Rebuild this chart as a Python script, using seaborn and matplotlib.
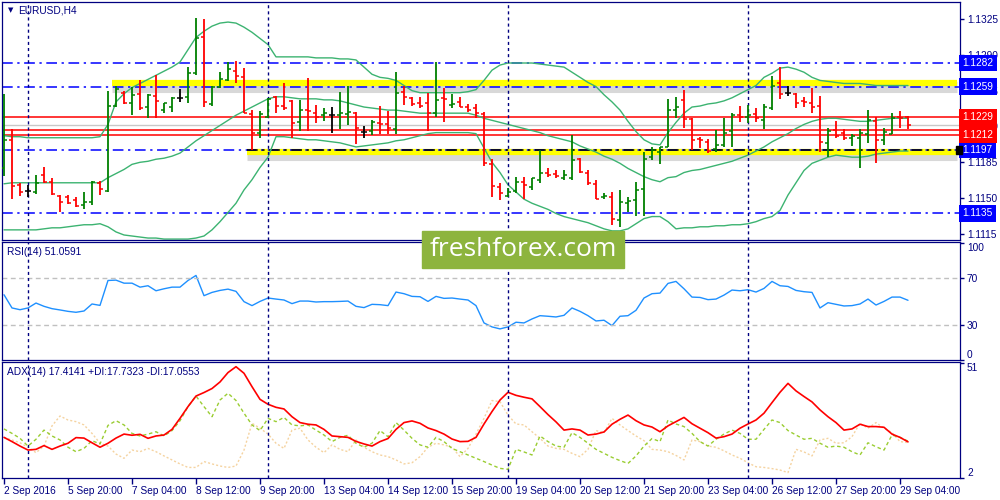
import numpy as np
import pandas as pd
import matplotlib
matplotlib.use("Agg")
import matplotlib.pyplot as plt
import seaborn as sns
from matplotlib.patches import Rectangle

# EURUSD H4, bars from 2 Sep 2016 12:00 to 29 Sep 2016 08:00
opens = [1.1179, 1.1207, 1.1163, 1.1157, 1.1156, 1.1173, 1.1166, 1.1152, 1.1151, 1.1148,
         1.1143, 1.1146, 1.1165, 1.1157, 1.1240, 1.1253, 1.1243, 1.1252, 1.1239, 1.1250,
         1.1236, 1.1239, 1.1248, 1.1249, 1.1272, 1.1307, 1.1242, 1.1259, 1.1265, 1.1274,
         1.1268, 1.1232, 1.1214, 1.1229, 1.1249, 1.1240, 1.1245, 1.1224, 1.1236, 1.1233,
         1.1231, 1.1231, 1.1231, 1.1232, 1.1233, 1.1215, 1.1216, 1.1223, 1.1222, 1.1218,
         1.1254, 1.1248, 1.1243, 1.1243, 1.1233, 1.1248, 1.1241, 1.1244, 1.1239, 1.1238,
         1.1232, 1.1183, 1.1161, 1.1152, 1.1157, 1.1166, 1.1161, 1.1168, 1.1175, 1.1174,
         1.1170, 1.1170, 1.1188, 1.1175, 1.1164, 1.1151, 1.1151, 1.1129, 1.1145, 1.1148,
         1.1159, 1.1190, 1.1195, 1.1200, 1.1236, 1.1246, 1.1227, 1.1208, 1.1205, 1.1198,
         1.1202, 1.1216, 1.1231, 1.1229, 1.1232, 1.1226, 1.1238, 1.1262, 1.1253, 1.1252,
         1.1245, 1.1243, 1.1240, 1.1204, 1.1217, 1.1214, 1.1209, 1.1209, 1.1213, 1.1225,
         1.1207, 1.1213, 1.1229, 1.1229]
highs = [1.1252, 1.1218, 1.1165, 1.1163, 1.1173, 1.1180, 1.1170, 1.1153, 1.1153, 1.1151,
         1.1156, 1.1167, 1.1167, 1.1255, 1.1260, 1.1255, 1.1259, 1.1265, 1.1252, 1.1270,
         1.1243, 1.1249, 1.1257, 1.1278, 1.1326, 1.1325, 1.1260, 1.1273, 1.1283, 1.1284,
         1.1277, 1.1236, 1.1235, 1.1248, 1.1250, 1.1262, 1.1246, 1.1246, 1.1267, 1.1241,
         1.1238, 1.1239, 1.1254, 1.1260, 1.1234, 1.1220, 1.1226, 1.1240, 1.1235, 1.1273,
         1.1260, 1.1249, 1.1249, 1.1253, 1.1283, 1.1258, 1.1252, 1.1249, 1.1242, 1.1242,
         1.1234, 1.1188, 1.1165, 1.1160, 1.1171, 1.1171, 1.1170, 1.1197, 1.1179, 1.1177,
         1.1177, 1.1212, 1.1189, 1.1177, 1.1168, 1.1155, 1.1156, 1.1158, 1.1151, 1.1166,
         1.1195, 1.1200, 1.1200, 1.1247, 1.1249, 1.1256, 1.1228, 1.1210, 1.1208, 1.1217,
         1.1228, 1.1233, 1.1240, 1.1241, 1.1238, 1.1242, 1.1269, 1.1278, 1.1260, 1.1253,
         1.1249, 1.1258, 1.1250, 1.1219, 1.1225, 1.1218, 1.1213, 1.1218, 1.1236, 1.1229,
         1.1219, 1.1233, 1.1235, 1.1230]
lows = [1.1172, 1.1149, 1.1152, 1.1151, 1.1154, 1.1165, 1.1153, 1.1136, 1.1144, 1.1141,
        1.1139, 1.1143, 1.1153, 1.1156, 1.1239, 1.1242, 1.1231, 1.1236, 1.1228, 1.1228,
        1.1233, 1.1234, 1.1244, 1.1243, 1.1270, 1.1239, 1.1240, 1.1258, 1.1264, 1.1262,
        1.1233, 1.1197, 1.1209, 1.1228, 1.1233, 1.1236, 1.1209, 1.1216, 1.1216, 1.1223,
        1.1225, 1.1214, 1.1218, 1.1221, 1.1203, 1.1209, 1.1212, 1.1213, 1.1213, 1.1213,
        1.1241, 1.1240, 1.1238, 1.1216, 1.1229, 1.1224, 1.1238, 1.1239, 1.1234, 1.1228,
        1.1181, 1.1151, 1.1148, 1.1151, 1.1155, 1.1149, 1.1158, 1.1165, 1.1171, 1.1170,
        1.1168, 1.1168, 1.1175, 1.1163, 1.1149, 1.1149, 1.1124, 1.1122, 1.1136, 1.1133,
        1.1133, 1.1187, 1.1183, 1.1200, 1.1228, 1.1219, 1.1197, 1.1199, 1.1194, 1.1195,
        1.1200, 1.1200, 1.1224, 1.1223, 1.1224, 1.1218, 1.1236, 1.1247, 1.1250, 1.1238,
        1.1239, 1.1233, 1.1195, 1.1190, 1.1209, 1.1207, 1.1201, 1.1179, 1.1204, 1.1184,
        1.1202, 1.1213, 1.1219, 1.1218]
closes = [1.1207, 1.1162, 1.1156, 1.1157, 1.1165, 1.1166, 1.1154, 1.1146, 1.1145, 1.1142,
          1.1146, 1.1166, 1.1159, 1.1240, 1.1257, 1.1243, 1.1251, 1.1238, 1.1251, 1.1245,
          1.1243, 1.1248, 1.1248, 1.1272, 1.1306, 1.1244, 1.1259, 1.1266, 1.1276, 1.1269,
          1.1233, 1.1214, 1.1232, 1.1247, 1.1240, 1.1238, 1.1223, 1.1236, 1.1235, 1.1229,
          1.1233, 1.1231, 1.1233, 1.1234, 1.1219, 1.1215, 1.1224, 1.1222, 1.1219, 1.1253,
          1.1249, 1.1242, 1.1240, 1.1233, 1.1246, 1.1247, 1.1242, 1.1239, 1.1236, 1.1233,
          1.1184, 1.1162, 1.1155, 1.1156, 1.1166, 1.1163, 1.1170, 1.1175, 1.1173, 1.1172,
          1.1173, 1.1187, 1.1176, 1.1165, 1.1149, 1.1152, 1.1130, 1.1146, 1.1147, 1.1158,
          1.1188, 1.1197, 1.1200, 1.1236, 1.1239, 1.1227, 1.1207, 1.1207, 1.1196, 1.1202,
          1.1214, 1.1231, 1.1229, 1.1231, 1.1228, 1.1239, 1.1260, 1.1252, 1.1253, 1.1243,
          1.1244, 1.1239, 1.1205, 1.1216, 1.1211, 1.1209, 1.1211, 1.1214, 1.1226, 1.1207,
          1.1215, 1.1228, 1.1228, 1.1221]

# Bollinger bands
bb_upper = [1.1211, 1.1210, 1.1210, 1.1209, 1.1209, 1.1209, 1.1209, 1.1209, 1.1209, 1.1209,
            1.1209, 1.1209, 1.1210, 1.1222, 1.1244, 1.1252, 1.1258, 1.1262, 1.1266, 1.1270,
            1.1274, 1.1278, 1.1283, 1.1295, 1.1307, 1.1313, 1.1318, 1.1321, 1.1322, 1.1321,
            1.1317, 1.1312, 1.1306, 1.1300, 1.1288, 1.1288, 1.1288, 1.1288, 1.1288, 1.1287,
            1.1287, 1.1287, 1.1286, 1.1286, 1.1285, 1.1278, 1.1271, 1.1268, 1.1267, 1.1265,
            1.1260, 1.1255, 1.1253, 1.1253, 1.1253, 1.1253, 1.1253, 1.1253, 1.1254, 1.1256,
            1.1265, 1.1275, 1.1280, 1.1282, 1.1282, 1.1282, 1.1282, 1.1281, 1.1280, 1.1279,
            1.1278, 1.1273, 1.1268, 1.1263, 1.1259, 1.1251, 1.1244, 1.1236, 1.1225, 1.1215,
            1.1207, 1.1203, 1.1202, 1.1214, 1.1224, 1.1233, 1.1239, 1.1240, 1.1242, 1.1243,
            1.1245, 1.1248, 1.1252, 1.1256, 1.1260, 1.1268, 1.1272, 1.1277, 1.1278, 1.1276,
            1.1273, 1.1268, 1.1265, 1.1264, 1.1263, 1.1262, 1.1262, 1.1262, 1.1261, 1.1260,
            1.1260, 1.1260, 1.1260, 1.1260]
bb_middle = [1.1164, 1.1165, 1.1165, 1.1165, 1.1165, 1.1165, 1.1165, 1.1165, 1.1165, 1.1165,
             1.1165, 1.1165, 1.1165, 1.1170, 1.1174, 1.1178, 1.1183, 1.1185, 1.1186, 1.1188,
             1.1189, 1.1191, 1.1194, 1.1200, 1.1206, 1.1211, 1.1216, 1.1221, 1.1226, 1.1231,
             1.1235, 1.1239, 1.1243, 1.1247, 1.1249, 1.1249, 1.1248, 1.1247, 1.1247, 1.1247,
             1.1246, 1.1246, 1.1245, 1.1243, 1.1241, 1.1239, 1.1238, 1.1237, 1.1236, 1.1236,
             1.1235, 1.1234, 1.1233, 1.1233, 1.1233, 1.1233, 1.1233, 1.1233, 1.1233, 1.1231,
             1.1228, 1.1226, 1.1224, 1.1222, 1.1220, 1.1218, 1.1216, 1.1214, 1.1211, 1.1209,
             1.1207, 1.1205, 1.1201, 1.1198, 1.1195, 1.1191, 1.1188, 1.1184, 1.1179, 1.1175,
             1.1171, 1.1168, 1.1166, 1.1170, 1.1171, 1.1175, 1.1177, 1.1178, 1.1180, 1.1182,
             1.1184, 1.1186, 1.1189, 1.1192, 1.1196, 1.1200, 1.1205, 1.1209, 1.1213, 1.1218,
             1.1222, 1.1225, 1.1227, 1.1228, 1.1228, 1.1227, 1.1226, 1.1225, 1.1225, 1.1226,
             1.1227, 1.1228, 1.1228, 1.1228]
bb_lower = [1.1119, 1.1119, 1.1119, 1.1119, 1.1119, 1.1120, 1.1121, 1.1121, 1.1122, 1.1123,
            1.1124, 1.1124, 1.1125, 1.1122, 1.1117, 1.1114, 1.1113, 1.1112, 1.1111, 1.1111,
            1.1110, 1.1110, 1.1110, 1.1110, 1.1111, 1.1113, 1.1119, 1.1127, 1.1136, 1.1145,
            1.1158, 1.1168, 1.1180, 1.1190, 1.1210, 1.1210, 1.1209, 1.1208, 1.1207, 1.1207,
            1.1206, 1.1205, 1.1204, 1.1202, 1.1200, 1.1201, 1.1202, 1.1203, 1.1204, 1.1206,
            1.1207, 1.1209, 1.1211, 1.1213, 1.1214, 1.1214, 1.1214, 1.1214, 1.1214, 1.1213,
            1.1199, 1.1185, 1.1175, 1.1163, 1.1156, 1.1149, 1.1145, 1.1142, 1.1139, 1.1135,
            1.1132, 1.1130, 1.1128, 1.1126, 1.1123, 1.1120, 1.1118, 1.1118, 1.1120, 1.1125,
            1.1130, 1.1132, 1.1132, 1.1127, 1.1120, 1.1121, 1.1121, 1.1122, 1.1122, 1.1123,
            1.1123, 1.1124, 1.1124, 1.1125, 1.1127, 1.1130, 1.1132, 1.1138, 1.1153, 1.1165,
            1.1177, 1.1184, 1.1187, 1.1190, 1.1192, 1.1191, 1.1190, 1.1190, 1.1191, 1.1193,
            1.1194, 1.1195, 1.1196, 1.1196]

rsi = [55.8, 44.5, 43.0, 44.5, 48.7, 45.9, 43.9, 42.8, 41.6, 40.8,
       41.9, 47.9, 46.7, 68.0, 68.3, 65.7, 65.7, 62.3, 63.5, 59.2,
       60.9, 62.3, 62.3, 68.0, 72.3, 55.0, 57.8, 59.5, 60.6, 58.7,
       49.9, 46.5, 50.1, 53.0, 52.1, 51.3, 48.2, 50.4, 50.4, 49.6,
       49.9, 49.9, 50.1, 50.4, 45.9, 44.8, 47.6, 47.3, 46.5, 58.1,
       56.7, 54.4, 54.1, 50.1, 54.4, 52.7, 53.0, 52.1, 51.3, 46.5,
       31.7, 28.3, 26.6, 28.3, 32.3, 31.7, 35.1, 37.9, 37.4, 36.8,
       38.2, 44.5, 41.6, 37.9, 33.4, 34.0, 29.4, 37.4, 37.9, 42.5,
       53.0, 56.7, 57.2, 65.5, 67.2, 60.9, 53.8, 53.5, 51.6, 52.1,
       55.5, 59.8, 59.2, 60.1, 58.1, 61.2, 67.2, 63.5, 62.9, 59.5,
       58.4, 57.8, 44.5, 49.0, 47.6, 46.2, 46.5, 47.9, 52.1, 47.0,
       50.1, 53.8, 53.8, 51.06]

adx = [19.3, 17.5, 15.6, 13.9, 14.2, 15.8, 14.2, 15.6, 16.8, 19.2,
       19.0, 17.0, 15.1, 16.8, 19.0, 20.7, 20.2, 20.6, 18.9, 19.9,
       20.3, 22.7, 27.4, 32.4, 36.9, 38.4, 40.1, 42.9, 46.9, 49.4,
       46.6, 40.9, 35.5, 33.4, 32.1, 31.4, 28.1, 25.6, 24.9, 24.6,
       22.7, 19.9, 19.6, 19.3, 17.6, 16.5, 15.6, 17.5, 18.8, 22.7,
       25.6, 26.3, 25.3, 23.3, 22.2, 20.7, 18.6, 17.5, 17.6, 19.3,
       25.0, 30.3, 35.2, 38.5, 37.2, 36.4, 35.7, 32.4, 29.0, 25.9,
       22.4, 22.9, 22.4, 20.3, 20.7, 21.6, 24.9, 27.0, 28.8, 26.4,
       24.6, 23.7, 21.7, 24.2, 26.0, 27.8, 25.1, 23.2, 21.3, 19.0,
       19.6, 20.7, 23.2, 25.0, 26.7, 29.6, 34.1, 38.5, 42.3, 39.1,
       36.7, 34.4, 31.0, 28.1, 25.6, 22.4, 22.9, 24.9, 23.9, 23.9,
       23.6, 20.7, 19.3, 17.4]
plus_di = [22.9, 21.0, 18.9, 15.6, 18.5, 22.4, 19.9, 18.2, 15.1, 13.2,
           14.6, 17.9, 16.5, 24.4, 26.4, 24.6, 21.0, 19.9, 20.7, 21.7,
           19.9, 22.2, 26.4, 32.4, 36.9, 32.4, 28.1, 35.2, 38.1, 35.0,
           29.6, 24.6, 22.2, 27.4, 26.0, 27.8, 24.6, 24.2, 24.6, 22.4,
           20.3, 17.5, 19.3, 20.2, 16.8, 15.1, 16.8, 22.2, 19.6, 25.6,
           22.4, 18.9, 16.1, 15.1, 19.3, 17.5, 14.6, 13.2, 11.8, 10.4,
           9.0, 7.5, 6.1, 5.7, 14.2, 13.1, 11.8, 19.9, 17.5, 15.6,
           15.1, 21.3, 19.3, 16.8, 14.2, 12.5, 10.8, 9.4, 8.2, 11.4,
           15.6, 18.8, 17.5, 26.7, 25.0, 23.9, 21.0, 17.5, 15.6, 18.5,
           20.7, 22.4, 21.0, 18.5, 18.5, 22.7, 26.7, 25.6, 22.2, 20.3,
           18.5, 18.9, 16.8, 15.1, 15.6, 15.1, 13.2, 11.8, 17.0, 15.3,
           13.9, 20.3, 19.3, 17.7]
minus_di = [19.3, 18.2, 17.0, 15.1, 12.8, 15.6, 24.2, 28.4, 26.7, 26.0,
            24.6, 21.0, 16.8, 15.6, 12.2, 10.4, 13.9, 13.2, 14.6, 13.2,
            11.4, 9.7, 8.0, 6.5, 6.5, 9.0, 8.0, 7.1, 6.5, 7.1,
            13.9, 25.3, 23.2, 20.7, 16.8, 14.6, 22.4, 23.2, 18.2, 15.1,
            12.8, 16.1, 14.2, 13.2, 18.2, 15.1, 13.2, 11.8, 11.1, 9.7,
            8.0, 8.5, 11.1, 15.1, 16.8, 16.1, 15.1, 11.1, 14.6, 20.7,
            27.4, 35.0, 34.5, 28.8, 25.0, 24.6, 21.7, 18.9, 15.6, 14.6,
            14.2, 12.5, 11.1, 14.2, 22.2, 21.3, 27.4, 24.6, 22.2, 19.9,
            17.9, 14.2, 13.9, 13.2, 11.6, 9.7, 18.2, 17.5, 15.6, 15.1,
            13.6, 11.8, 10.4, 8.5, 6.8, 6.5, 6.0, 5.4, 4.3, 14.2,
            13.1, 11.4, 18.2, 18.9, 16.8, 17.0, 19.6, 25.3, 23.2, 25.6,
            23.2, 21.3, 17.5, 17.1]

tick_bars = [0, 8, 16, 24, 32, 40, 48, 56, 64, 72, 80, 88, 96, 104, 112]
tick_labels = ["2 Sep 2016", "5 Sep 20:00", "7 Sep 04:00", "8 Sep 12:00", "9 Sep 20:00",
               "13 Sep 04:00", "14 Sep 12:00", "15 Sep 20:00", "19 Sep 04:00", "20 Sep 12:00",
               "21 Sep 20:00", "23 Sep 04:00", "26 Sep 12:00", "27 Sep 20:00", "29 Sep 04:00"]
week_starts = [3, 33, 63, 93]
price_ticks = [1.1325, 1.1290, 1.1255, 1.1220, 1.1185, 1.1150, 1.1115]
blue_levels = [1.1282, 1.1259, 1.1197, 1.1135]
red_levels = [1.1229, 1.1217, 1.1212]
red_labels = [1.1229, 1.1212]
zone_levels = [1.1262, 1.1195]
zone_starts = [13.5, 30.4]

navy = "#000080"
sns.set_style("white")
plt.rcParams["font.family"] = ["Liberation Sans", "DejaVu Sans"]

fig = plt.figure(figsize=(10, 5), dpi=100)
ax = fig.add_axes([0.002, 0.52, 0.958, 0.476])
ax_rsi = fig.add_axes([0.002, 0.28, 0.958, 0.236], sharex=ax)
ax_adx = fig.add_axes([0.002, 0.044, 0.958, 0.232], sharex=ax)

n = len(closes)
bars = pd.DataFrame({"bar": np.arange(n), "open": opens, "high": highs,
                     "low": lows, "close": closes})
bars["color"] = np.where(bars.close > bars.open, "#008000",
                         np.where(bars.close < bars.open, "#ff0000", "black"))

# horizontal levels and yellow zones
for lvl, x0 in zip(zone_levels, zone_starts):
    ax.hlines(lvl - 0.0003, x0, 119.1, color="#808080", lw=8, alpha=0.3, zorder=1)
    ax.hlines(lvl, x0, 119.1, color="#ffff00", lw=4.5, zorder=1.2)
for lvl in blue_levels:
    ax.axhline(lvl, color="#0000ff", lw=1.1, dashes=(7, 3, 1.5, 3), zorder=1.5)
ax.hlines(blue_levels[2], zone_starts[1], 119.5, color="black", lw=1.1,
          linestyles=[(0, (7, 3, 1.5, 3))], zorder=1.6)
for lvl in red_levels:
    ax.axhline(lvl, color="#ff0000", lw=1.1, zorder=1.5)
ax.axhline(closes[-1], color="#c8c8c8", lw=1, zorder=1.4)

# Bollinger bands
bb = pd.DataFrame({"bar": bars.bar, "upper": bb_upper, "middle": bb_middle,
                   "lower": bb_lower}).melt("bar")
sns.lineplot(data=bb, x="bar", y="value", units="variable", estimator=None,
             color="#3cb371", lw=1, ax=ax, zorder=2)

# OHLC bars
ax.vlines(bars.bar, bars.low, bars.high, colors=bars.color, lw=1.3, zorder=3)
ax.hlines(bars.open, bars.bar - 0.42, bars.bar, colors=bars.color, lw=1.1, zorder=3)
ax.hlines(bars.close, bars.bar, bars.bar + 0.42, colors=bars.color, lw=1.1, zorder=3)

# RSI
sns.lineplot(x=bars.bar, y=rsi, color="#1e90ff", lw=1, ax=ax_rsi)
for lvl in (70, 30):
    ax_rsi.axhline(lvl, color="#c0c0c0", lw=1, dashes=(3.5, 2.5))

# ADX
ax_adx.plot(bars.bar, minus_di, color="#f5d3a0", lw=1, dashes=(1.5, 1.5))
ax_adx.plot(bars.bar, plus_di, color="#9acd32", lw=1, dashes=(2.5, 2))
sns.lineplot(x=bars.bar, y=adx, color="#ff0000", lw=1.2, ax=ax_adx)

for a in (ax, ax_rsi, ax_adx):
    for wb in week_starts:
        a.axvline(wb, color=navy, lw=1, dashes=(2.2, 2.2), zorder=2.5)
    a.set_xlim(-0.25, 119.5)
    a.set_xlabel("")
    a.set_ylabel("")
    a.yaxis.tick_right()
    a.tick_params(axis="y", direction="out", length=3, width=1, color=navy,
                  labelsize=7.3, labelcolor=navy, pad=2, left=False, right=True)
    for s in a.spines.values():
        s.set_color(navy)
        s.set_linewidth(0.9)

ax.set_ylim(1.11091, 1.13416)
ax.set_yticks(price_ticks)
ax.set_yticklabels([f"{p:.4f}" for p in price_ticks])
ax.tick_params(axis="x", bottom=False, labelbottom=False)
ax_rsi.tick_params(axis="x", bottom=False, labelbottom=False)

ax_rsi.set_ylim(0, 100.9)
ax_rsi.set_yticks([100, 70, 30, 0])
ax_rsi.set_yticklabels(["100", "70", "30", "0"])
ax_rsi.get_yticklabels()[0].set_va("top")
ax_rsi.get_yticklabels()[3].set_va("bottom")

ax_adx.set_ylim(2, 51.4)
ax_adx.set_yticks([51, 2])
ax_adx.set_yticklabels(["51", "2"])
ax_adx.get_yticklabels()[0].set_va("top")
ax_adx.get_yticklabels()[1].set_va("bottom")
ax_adx.set_xticks(tick_bars)
ax_adx.set_xticklabels(tick_labels, ha="left")
ax_adx.tick_params(axis="x", direction="out", length=4, width=1, color=navy,
                   labelsize=7.3, labelcolor=navy, pad=2, bottom=True)

# price labels on the right
ytr = ax.get_yaxis_transform()
for lvl in blue_levels:
    ax.text(1.0025, lvl, f"{lvl:.4f}", transform=ytr, ha="left", va="center",
            color="white", fontsize=7.3, zorder=10, clip_on=False,
            bbox=dict(boxstyle="square,pad=0.34", fc="#0000ff", ec="none"))
for lvl in red_labels:
    ax.text(1.0025, lvl, f"{lvl:.4f}", transform=ytr, ha="left", va="center",
            color="white", fontsize=7.3, zorder=10, clip_on=False,
            bbox=dict(boxstyle="square,pad=0.34", fc="#ff0000", ec="none"))
ax.add_patch(Rectangle((0.996, blue_levels[2] - 0.00035), 0.006, 0.0007,
                       transform=ytr, color="black", clip_on=False, zorder=11))

# captions
ax.text(0.006, 0.966, "\u25bc", transform=ax.transAxes, fontsize=5, color=navy,
        va="center", family="DejaVu Sans")
ax.text(0.017, 0.966, "EURUSD,H4", transform=ax.transAxes, fontsize=7.3,
        color=navy, va="center")
ax_rsi.text(0.005, 0.915, "RSI(14) 51.0591", transform=ax_rsi.transAxes,
            fontsize=7.3, color=navy, va="center")
ax_adx.text(0.005, 0.914, "ADX(14) 17.4141 +DI:17.7323 -DI:17.0553",
            transform=ax_adx.transAxes, fontsize=7.3, color=navy, va="center")

# watermark
fig.patches.append(Rectangle((0.422, 0.464), 0.202, 0.074, transform=fig.transFigure,
                             color="#8db43e", zorder=5))
fig.text(0.523, 0.501, "freshforex.com", color="white", fontsize=19,
         family="Open Sans", ha="center", va="center", zorder=6)

fig.savefig("out.png", dpi=100, facecolor="white")
